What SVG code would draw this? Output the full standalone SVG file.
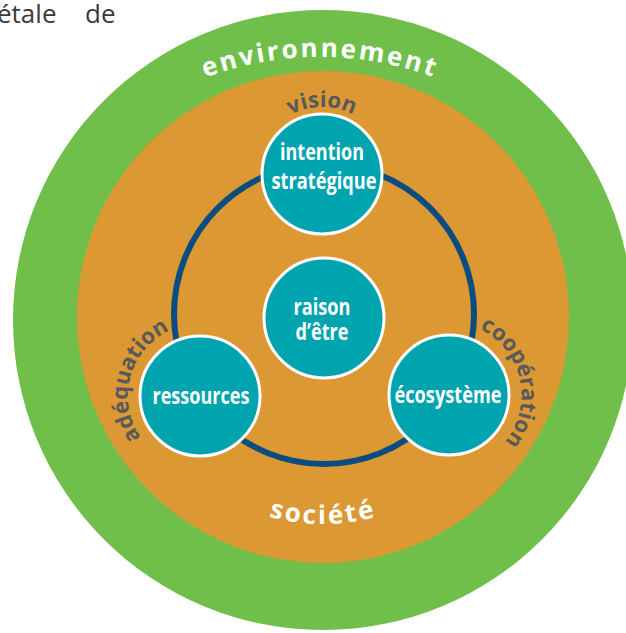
<svg xmlns="http://www.w3.org/2000/svg" xmlns:xlink="http://www.w3.org/1999/xlink" width="626" height="633" viewBox="0 0 626 633">
  <style>
    .node-disc { fill: #00a4ae; stroke: #ffffff; stroke-width: 3; }
    .node-label { font-family: "Open Sans", "Liberation Sans", sans-serif; font-weight: 700; font-size: 23px; fill: #ffffff; text-anchor: middle; }
    .ring-label { font-family: "Open Sans", "Liberation Sans", sans-serif; font-weight: 700; font-size: 26px; fill: #ffffff; letter-spacing: 2.5px; }
    .link-label { font-family: "Open Sans", "Liberation Sans", sans-serif; font-weight: 700; font-size: 22px; fill: #58595b; }
    .body-text { font-family: "Open Sans", "Liberation Sans", sans-serif; font-size: 26px; fill: #3a3a3a; }
  </style>
  <defs>
    <!-- text baselines -->
    <path id="arc-env" d="M 100,141 A 330 330 0 0 1 540,141"/>
    <path id="arc-soc" d="M 160,440 A 200 200 0 0 0 486,440"/>
    <path id="arc-vision" d="M 255,174 A 67 67 0 0 1 389,174"/>
    <path id="arc-adeq" d="M 175.4,463.7 A 72 72 0 0 1 212.5,325.1"/>
    <path id="arc-coop" d="M 436.3,323.1 A 73 73 0 0 1 467.7,465.5"/>
  </defs>

  <rect width="626" height="633" fill="#ffffff"/>

  <!-- running text above the figure -->
  <text class="body-text" y="23"><tspan x="-3">étale</tspan><tspan x="85">de</tspan></text>

  <!-- outer rings -->
  <g id="environnement">
    <circle cx="323" cy="320" r="310" fill="#70bf4b"/>
    <text class="ring-label"><textPath xlink:href="#arc-env" startOffset="50%" text-anchor="middle">environnement</textPath></text>
  </g>
  <g id="societe">
    <circle cx="323" cy="317" r="246" fill="#dc9833"/>
    <text class="ring-label"><textPath xlink:href="#arc-soc" startOffset="50%" text-anchor="middle">société</textPath></text>
  </g>

  <!-- connecting loop and its labels -->
  <g id="connectors">
    <circle cx="324" cy="314" r="150" fill="none" stroke="#0b4d80" stroke-width="6"/>
    <text class="link-label"><textPath xlink:href="#arc-vision" startOffset="50%" text-anchor="middle">vision</textPath></text>
    <text class="link-label"><textPath xlink:href="#arc-adeq" startOffset="50%" text-anchor="middle">adéquation</textPath></text>
    <text class="link-label"><textPath xlink:href="#arc-coop" startOffset="50%" text-anchor="middle">coopération</textPath></text>
  </g>

  <g id="intention">
    <circle class="node-disc" cx="322" cy="174" r="60"/>
    <text class="node-label" x="322" y="160" textLength="84" lengthAdjust="spacingAndGlyphs">intention</text>
    <text class="node-label" x="324" y="189" textLength="105" lengthAdjust="spacingAndGlyphs">stratégique</text>
  </g>
  <g id="raison">
    <circle class="node-disc" cx="324" cy="318" r="60"/>
    <text class="node-label" x="322" y="315" textLength="57" lengthAdjust="spacingAndGlyphs">raison</text>
    <text class="node-label" x="322" y="340" textLength="53" lengthAdjust="spacingAndGlyphs">d’être</text>
  </g>
  <g id="ressources">
    <circle class="node-disc" cx="200" cy="396" r="60"/>
    <text class="node-label" x="201" y="404" textLength="97" lengthAdjust="spacingAndGlyphs">ressources</text>
  </g>
  <g id="ecosysteme">
    <circle class="node-disc" cx="449" cy="395" r="60"/>
    <text class="node-label" x="448" y="403" textLength="107" lengthAdjust="spacingAndGlyphs">écosystème</text>
  </g>
</svg>
